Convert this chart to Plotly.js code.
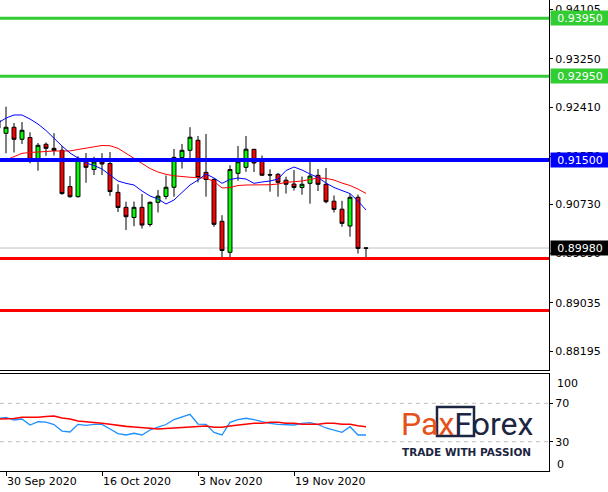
<!DOCTYPE html>
<html><head><meta charset="utf-8">
<script src="https://cdn.plot.ly/plotly-3.0.1.min.js"></script>
<style>html,body{margin:0;padding:0;background:#fff;}#chart{width:608px;height:492px;}</style>
</head><body><div id="chart"></div>
<script>
const dates = ['2020-09-29','2020-09-30','2020-10-01','2020-10-02','2020-10-05','2020-10-06','2020-10-07','2020-10-08','2020-10-09','2020-10-12',
  '2020-10-13','2020-10-14','2020-10-15','2020-10-16','2020-10-19','2020-10-20','2020-10-21','2020-10-22','2020-10-23','2020-10-26',
  '2020-10-27','2020-10-28','2020-10-29','2020-10-30','2020-11-02','2020-11-03','2020-11-04','2020-11-05','2020-11-06','2020-11-09',
  '2020-11-10','2020-11-11','2020-11-12','2020-11-13','2020-11-16','2020-11-17','2020-11-18','2020-11-19','2020-11-20','2020-11-23',
  '2020-11-24','2020-11-25','2020-11-26','2020-11-27','2020-11-30','2020-12-01','2020-12-02'];
const openP = [0.92055,0.91963,0.92067,0.91859,0.91890,0.91501,0.91773,0.91703,0.91669,0.91043,
  0.90867,0.91492,0.91337,0.91470,0.91441,0.90942,0.90683,0.90507,0.90683,0.90386,
  0.90770,0.90871,0.91030,0.91544,0.91669,0.91842,0.91288,0.91167,0.90442,0.89906,
  0.91271,0.91375,0.91686,0.91478,0.91250,0.91254,0.91152,0.91086,0.91026,0.91098,
  0.91236,0.91081,0.90789,0.90651,0.90360,0.90857,0.89976];
const highP = [0.92452,0.92422,0.92140,0.92157,0.91980,0.91795,0.91804,0.91965,0.91740,0.91224,
  0.91565,0.91622,0.91558,0.91619,0.91639,0.91081,0.90780,0.90784,0.90913,0.90784,
  0.90982,0.91233,0.91691,0.91778,0.92068,0.91916,0.91951,0.91181,0.90547,0.91411,
  0.91743,0.91916,0.91691,0.91579,0.91342,0.91276,0.91212,0.91328,0.91215,0.91475,
  0.91345,0.91363,0.90888,0.90796,0.90913,0.90904,0.89985];
const lowP = [0.91674,0.91617,0.91631,0.91778,0.91444,0.91316,0.91574,0.91579,0.90901,0.90850,
  0.90853,0.91108,0.91241,0.91241,0.90882,0.90602,0.90291,0.90356,0.90317,0.90351,
  0.90594,0.90822,0.90867,0.91354,0.91522,0.91115,0.90867,0.90347,0.89817,0.89820,
  0.91143,0.91297,0.91294,0.91224,0.90953,0.90867,0.90921,0.90973,0.90901,0.90746,
  0.90965,0.90753,0.90594,0.90347,0.90176,0.89885,0.89825];
const closeP = [0.92192,0.92067,0.91859,0.92015,0.91501,0.91755,0.91703,0.91665,0.90921,0.90867,
  0.91530,0.91375,0.91466,0.91432,0.90956,0.90680,0.90521,0.90683,0.90377,0.90770,
  0.90876,0.91030,0.91547,0.91669,0.91895,0.91198,0.91164,0.90389,0.89937,0.91337,
  0.91471,0.91688,0.91449,0.91238,0.91241,0.91115,0.91082,0.91026,0.91082,0.91224,
  0.91081,0.90780,0.90648,0.90406,0.90857,0.89972,0.89980];
const maFast = [0.92140,0.92226,0.92279,0.92279,0.92209,0.92123,0.92011,0.91873,0.91743,0.91622,
  0.91536,0.91449,0.91406,0.91346,0.91241,0.91138,0.91098,0.91069,0.90965,0.90879,
  0.90827,0.90741,0.90810,0.90931,0.91069,0.91155,0.91259,0.91190,0.91098,0.91164,
  0.91190,0.91172,0.91098,0.91121,0.91138,0.91172,0.91319,0.91380,0.91328,0.91259,
  0.91198,0.91103,0.91026,0.90973,0.90921,0.90793,0.90637];
const maSlow = [null,0.91501,0.91562,0.91617,0.91631,0.91645,0.91648,0.91657,0.91657,0.91657,
  0.91683,0.91703,0.91726,0.91752,0.91748,0.91703,0.91617,0.91527,0.91441,0.91354,
  0.91294,0.91254,0.91228,0.91211,0.91203,0.91198,0.91184,0.91133,0.91017,0.91026,
  0.91060,0.91069,0.91069,0.91069,0.91074,0.91086,0.91115,0.91126,0.91138,0.91164,
  0.91190,0.91184,0.91155,0.91103,0.91060,0.90999,0.90924];
const oscMain = [54.2,55.4,52.6,53.6,47.4,50.8,50.5,47.9,41.1,40.1,
  48.1,47.1,48.1,48.1,43.2,38.5,37.0,38.8,37.0,42.2,
  45.3,47.9,53.1,56.0,58.5,48.4,48.1,39.6,37.0,50.2,
  53.1,54.4,53.1,50.8,49.0,48.1,47.4,47.4,49.0,49.8,
  47.9,44.3,42.0,39.8,45.6,37.0,37.0];
const oscSignal = [53.6,53.6,54.2,55.4,55.4,55.4,56.3,56.8,54.7,53.6,
  51.6,50.8,50.5,49.2,48.1,46.7,46.0,45.3,45.0,44.0,
  43.2,43.8,44.0,45.0,45.8,46.4,46.4,45.0,45.0,46.4,
  47.4,48.1,49.2,49.2,50.2,50.2,49.2,49.2,48.1,48.1,
  48.1,49.2,49.2,48.1,48.1,46.7,45.6];
const levelPrices = [0.93950, 0.92950, 0.91500, 0.89980, 0.89800, 0.88900];
const oscLevels = [70, 30];
const priceTicks = [0.94105, 0.93250, 0.92410, 0.91570, 0.90730, 0.89890, 0.89035, 0.88195];
const dateTicks = ['2020-09-30','2020-10-16','2020-11-03','2020-11-19'];
const dateTickText = ['30 Sep 2020','16 Oct 2020','3 Nov 2020','19 Nov 2020'];
const oscTicks = [30, 70];

// styles
const levelColors = ['#32CD32','#32CD32','#0000FF','#C0C0C0','#FF0000','#FF0000'];
const levelWidths = [3,3,4,1,3,3];
const labelBg = ['#32CD32','#32CD32','#0000FF','#000000',null,null];
const FONT = 'DejaVu Sans, Verdana, sans-serif';

const traces = [
  {type:'candlestick', x:dates, open:openP, high:highP, low:lowP, close:closeP,
   xaxis:'x', yaxis:'y', whiskerwidth:0,
   increasing:{line:{color:'#000000', width:1}, fillcolor:'#00FF00'},
   decreasing:{line:{color:'#000000', width:1}, fillcolor:'#FF0000'},
   hoverinfo:'skip'},
  {type:'scatter', mode:'lines', x:dates, y:maSlow, line:{color:'#FF0000', width:1}, xaxis:'x', yaxis:'y', hoverinfo:'skip'},
  {type:'scatter', mode:'lines', x:dates, y:maFast, line:{color:'#0000FF', width:1}, xaxis:'x', yaxis:'y', hoverinfo:'skip'},
  {type:'scatter', mode:'lines', x:dates, y:oscMain, line:{color:'#1E90FF', width:1.3}, xaxis:'x2', yaxis:'y2', hoverinfo:'skip'},
  {type:'scatter', mode:'lines', x:dates, y:oscSignal, line:{color:'#FF0000', width:1.6}, xaxis:'x2', yaxis:'y2', hoverinfo:'skip'}
];

const shapes = [];
levelPrices.forEach((p,i)=>{
  shapes.push({type:'line', xref:'paper', x0:0, x1:1, yref:'y', y0:p, y1:p,
    line:{color:levelColors[i], width:levelWidths[i]}, layer: i===3 ? 'below' : 'above'});
});
oscLevels.forEach(v=>{
  shapes.push({type:'line', xref:'paper', x0:0, x1:1, yref:'y2', y0:v, y1:v,
    line:{color:'#C0C0C0', width:1, dash:'4px,4px'}, layer:'below'});
});
// logo box
shapes.push({type:'rect', xref:'paper', yref:'paper', x0:437/549, x1:474/549, y0:(471-436)/471, y1:(471-407)/471,
  line:{color:'#1C2541', width:2.5}, fillcolor:'rgba(0,0,0,0)', layer:'above'});

const annotations = [];
levelPrices.forEach((p,i)=>{
  if(!labelBg[i]) return;
  annotations.push({xref:'paper', x:1, xanchor:'left', xshift:1, yref:'y', y:p, yanchor:'middle',
    text:p.toFixed(5), showarrow:false, bgcolor:labelBg[i], borderpad:0, width:58, height:14,
    align:'center', font:{family:FONT, size:11, color:'#FFFFFF'}});
});
annotations.push({xref:'paper', x:1, xanchor:'left', xshift:6, yref:'paper', y:(471-383)/471, yanchor:'middle',
  text:'100', showarrow:false, font:{family:FONT, size:11, color:'#000'}});
annotations.push({xref:'paper', x:1, xanchor:'left', xshift:6, yref:'paper', y:(471-464)/471, yanchor:'middle',
  text:'0', showarrow:false, font:{family:FONT, size:11, color:'#000'}});
annotations.push({xref:'paper', x:399/549, xanchor:'left', yref:'paper', y:(471-424)/471, yanchor:'middle',
  text:'<span style="color:#E4521B">Pax</span><span style="color:#1C2541">Forex</span>', showarrow:false,
  font:{family:'Roboto, sans-serif', size:32, color:'#1C2541'}});
annotations.push({xref:'paper', x:400/549, xanchor:'left', yref:'paper', y:(471-452)/471, yanchor:'middle',
  text:'<b>TRADE WITH PASSION</b>', showarrow:false,
  font:{family:FONT, size:10.5, color:'#1C2541'}});

const layout = {
  width:608, height:492, margin:{l:0, r:59, t:0, b:21},
  paper_bgcolor:'#FFFFFF', plot_bgcolor:'#FFFFFF', showlegend:false, hovermode:false,
  xaxis:{type:'category', domain:[0,1], anchor:'y', range:[0.25, 68.875], rangeslider:{visible:false},
    showticklabels:false, ticks:'', showgrid:false, zeroline:false, showline:true, linecolor:'#000', linewidth:1},
  yaxis:{domain:[0.2144,1], anchor:'x', side:'right', range:[0.878716, 0.942663],
    tickvals:priceTicks, ticktext:priceTicks.map(v=>v.toFixed(5)), ticks:'outside', ticklen:3, tickcolor:'#000',
    showgrid:false, zeroline:false, showline:true, linecolor:'#000', linewidth:1,
    tickfont:{family:FONT, size:11, color:'#000'}},
  xaxis2:{type:'category', domain:[0,1], anchor:'y2', matches:'x', range:[0.25, 68.875],
    tickvals:dateTicks, ticktext:dateTickText, ticks:'outside', ticklen:4, tickcolor:'#000',
    ticklabelposition:'outside right', showgrid:false, zeroline:false, showline:true, mirror:true,
    linecolor:'#000', linewidth:1, tickfont:{family:FONT, size:11, color:'#000'}},
  yaxis2:{domain:[0,0.207], anchor:'x2', side:'right', range:[-0.52, 101.04],
    tickvals:oscTicks, ticks:'outside', ticklen:3, tickcolor:'#000', showgrid:false, zeroline:false,
    showline:true, linecolor:'#000', linewidth:1, tickfont:{family:FONT, size:11, color:'#000'}},
  shapes:shapes, annotations:annotations
};
Plotly.newPlot('chart', traces, layout, {displayModeBar:false, staticPlot:true});
</script></body></html>
